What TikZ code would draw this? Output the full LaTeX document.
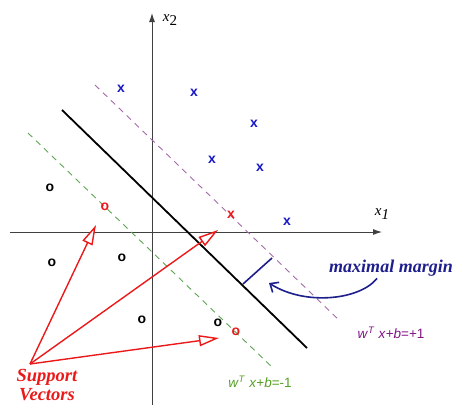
\documentclass[tikz,border=0pt]{standalone}
\usepackage{fontspec}
\setmainfont{Liberation Serif}
\newfontfamily\eqfont{Liberation Sans}
\usepackage{xcolor}
\usetikzlibrary{arrows.meta,calc}

\definecolor{svred}{RGB}{235,25,25}
\definecolor{ptblue}{RGB}{25,25,200}
\definecolor{mnavy}{RGB}{30,30,140}
\definecolor{lpurple}{RGB}{165,105,170}
\definecolor{lgreen}{RGB}{95,165,85}
\definecolor{eqpurple}{RGB}{130,20,135}
\definecolor{eqgreen}{RGB}{85,160,35}

\tikzset{
  pt/.style={font=\eqfont\bfseries\fontsize{14}{14}\selectfont,inner sep=0pt},
  axis/.style={draw=black!75,line width=0.9pt,-{Latex[length=9pt,width=6pt]}},
  svarrow/.style={draw=svred,line width=1.4pt,-{Triangle[length=20pt,width=11pt,fill=white,line width=1.4pt]}},
  eqlabel/.style={font=\eqfont\fontsize{13.5}{14}\selectfont,inner sep=0pt}
}

\begin{document}
\begin{tikzpicture}[x=1pt,y=-1pt]
  \useasboundingbox (0,0) rectangle (456,405);
  % axes
  \coordinate (O)  at (152,232);
  \coordinate (XL) at (10,232);
  \coordinate (XR) at (382,232);
  \coordinate (YB) at (152,405);
  \coordinate (YT) at (152,13);
  \draw[axis] (XL) -- (XR);
  \draw[axis] (YB) -- (YT);
  \node[font=\fontsize{15}{15}\selectfont] (x1lab) at (382,214) {\textit{x}\raisebox{-0.5ex}{\textit{1}}};
  \node[font=\fontsize{15}{15}\selectfont] (x2lab) at (170,20) {\textit{x}\raisebox{-0.5ex}{2}};

  % separating hyperplane and margins
  \coordinate (H1) at (62,110);
  \coordinate (H2) at (307,348);
  \coordinate (P1) at (95,85);
  \coordinate (P2) at (340,321);
  \coordinate (G1) at (28,133);
  \coordinate (G2) at (273,368);
  \draw[lpurple,line width=0.9pt,dash pattern=on 6pt off 5pt] (P1) -- (P2);
  \draw[lgreen,line width=0.9pt,dash pattern=on 6pt off 5pt] (G1) -- (G2);
  \draw[black,line width=1.8pt] (H1) -- (H2);

  % margin marker
  \coordinate (M1) at (243,284);
  \coordinate (M2) at (272,258);
  \draw[mnavy,line width=1.6pt] (M1) -- (M2);

  % class +1
  \foreach \px/\py [count=\i] in {121/89,194/93,254/124,212/160,260/168,287/222}
    \node[pt,ptblue] (xp\i) at (\px,\py) {x};
  \node[pt,svred] (xsv) at (231,215) {x};

  % class -1
  \foreach \px/\py [count=\i] in {50/188,52/263,122/258,142/320,218/323}
    \node[pt,black] (om\i) at (\px,\py) {o};
  \node[pt,svred] (osv1) at (105,207) {o};
  \node[pt,svred] (osv2) at (236,332) {o};

  % labels
  \node[mnavy,font=\bfseries\itshape\fontsize{18}{18}\selectfont,inner sep=0pt] (mm) at (391,268) {maximal margin};
  \draw[mnavy,line width=1.6pt,-{Straight Barb[length=7pt,width=12pt]}]
    ([xshift=-14pt,yshift=-2pt]mm.south) .. controls (360,300) and (305,306) .. (269,283);
  \node[eqlabel,eqpurple] (eqp) at (391,333) {\textit{w}\textsuperscript{\textit{T}} \textit{x}+\textit{b}=+1};
  \node[eqlabel,eqgreen] (eqm) at (260,382) {\textit{w}\textsuperscript{\textit{T}} \textit{x}+\textit{b}=-1};

  % support vectors
  \coordinate (SV) at (30,364);
  \coordinate (T1) at (96,225);
  \coordinate (T2) at (218,230);
  \coordinate (T3) at (219,338);
  \draw[svarrow] (SV) -- (T1);
  \draw[svarrow] (SV) -- (T2);
  \draw[svarrow] (SV) -- (T3);
  \node[svred,font=\bfseries\itshape\fontsize{18.5}{19}\selectfont,align=center,inner sep=0pt,anchor=north]
    (svlab) at (47,369) {Support\\Vectors};
\end{tikzpicture}
\end{document}
